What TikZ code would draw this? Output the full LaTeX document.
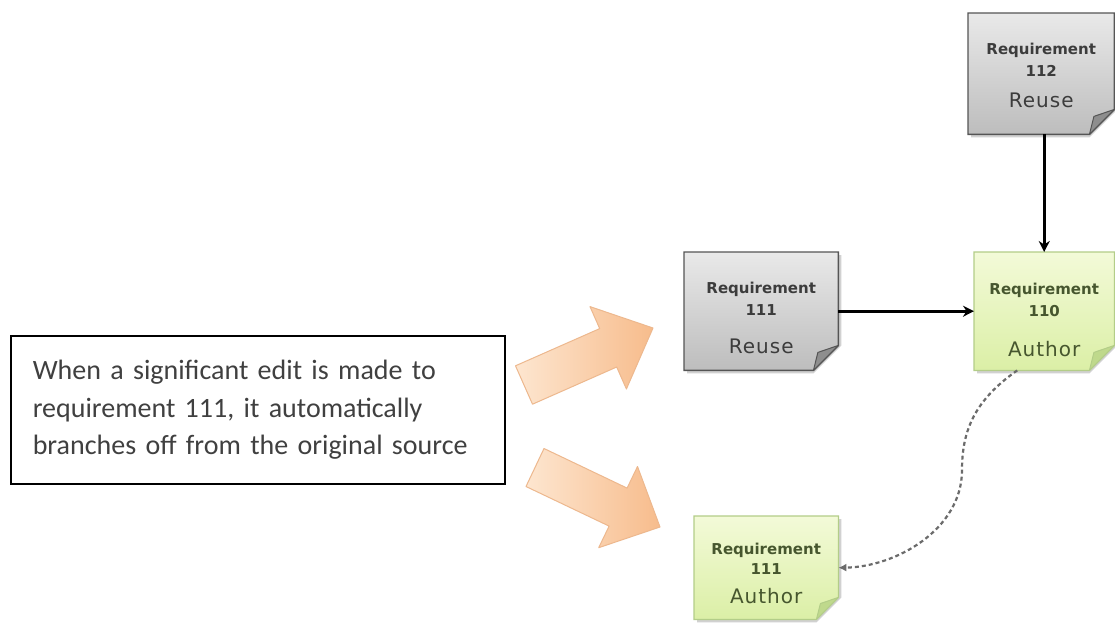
\documentclass[tikz,border=0pt]{standalone}
\usepackage{fontspec}
\setmainfont{Carlito}
\newfontfamily\notefont{DejaVu Sans}
\newfontfamily\notewide[LetterSpace=5]{DejaVu Sans}
\usetikzlibrary{calc,arrows.meta}

\definecolor{graytop}{HTML}{E9E9E9}
\definecolor{graybot}{HTML}{BDBDBD}
\definecolor{grayline}{HTML}{555555}
\definecolor{grayfold}{HTML}{8E8E8E}
\definecolor{graytext}{HTML}{3C3C3C}
\definecolor{greentop}{HTML}{F3FAD8}
\definecolor{greenbot}{HTML}{DBEFA6}
\definecolor{greenline}{HTML}{B3CD88}
\definecolor{greenfold}{HTML}{BFD98C}
\definecolor{greentext}{HTML}{46562E}
\definecolor{peachlight}{HTML}{FDE6D0}
\definecolor{peachdark}{HTML}{F7BC8C}
\definecolor{peachline}{HTML}{EDB88E}
\definecolor{infotext}{HTML}{404040}

\tikzset{
  notebox/.style={rectangle, inner sep=0pt, anchor=north west},
  graybody/.style={top color=graytop, bottom color=graybot, draw=grayline, line width=1.4pt},
  grayflap/.style={fill=grayfold, draw=grayline, line width=1pt, line join=round},
  greenbody/.style={top color=greentop, bottom color=greenbot, draw=greenline, line width=1.2pt},
  greenflap/.style={fill=greenfold, draw=greenline, line width=1pt, line join=round},
  noteshadow/.style={fill=black!18},
  notetext/.style={anchor=north, inner sep=0pt, align=center,
    font=\notefont\fontsize{15}{22}\selectfont\bfseries},
  infobox/.style={rectangle, draw=black, line width=1.5pt, anchor=north west,
    text width=450pt, align=left, inner xsep=22pt, text=infotext,
    font=\fontsize{28}{37.5}\selectfont},
  peacharrow/.style={left color=peachlight, right color=peachdark,
    draw=peachline, line width=1pt, line join=round},
  solidlink/.style={draw=black, line width=2.8pt,
    -{Stealth[length=11pt,width=11pt]}},
  dashedlink/.style={draw=black!58, line width=2.2pt, dash pattern=on 4pt off 3pt,
    -{Latex[length=8pt,width=8pt]}},
}

% folded-corner note drawn round a named rectangle node
% #1 node, #2 body style, #3 flap style, #4 flap size
\newcommand\foldnote[4]{%
  \path[noteshadow] ([xshift=3pt,yshift=-3pt]#1.north west)
    -- ([xshift=3pt,yshift=-3pt]#1.north east)
    -- ([xshift=3pt,yshift=#4]#1.south east)
    -- ([xshift=-#4,yshift=-3pt]#1.south east)
    -- ([xshift=3pt,yshift=-3pt]#1.south west) -- cycle;
  \path[#2] (#1.north west) -- (#1.north east)
    -- ([yshift=#4]#1.south east) -- ([xshift=-#4]#1.south east)
    -- (#1.south west) -- cycle;
  \path[#3] ([yshift=#4]#1.south east) -- ([xshift=-#4]#1.south east)
    -- ([xshift=-0.82*#4,yshift=0.72*#4]#1.south east) -- cycle;
}

\begin{document}
\begin{tikzpicture}[x=1pt,y=-1pt]
\useasboundingbox (0,0) rectangle (1115,624);
\fill[white] (0,0) rectangle (1115,624);

% note frames
\node[notebox, minimum width=146pt, minimum height=121pt] (r112) at (968,13) {};
\node[notebox, minimum width=154pt, minimum height=118pt] (r111) at (684,252) {};
\node[notebox, minimum width=140pt, minimum height=118pt] (r110) at (974,252) {};
\node[notebox, minimum width=144pt, minimum height=103pt] (a111) at (694,516) {};

\foldnote{r112}{graybody}{grayflap}{25pt}
\foldnote{r111}{graybody}{grayflap}{25pt}
\foldnote{r110}{greenbody}{greenflap}{25pt}
\foldnote{a111}{greenbody}{greenflap}{22pt}

% note captions
\node[notetext, text=graytext] (r112t) at ([yshift=-30pt]r112.north)
  {Requirement\\112\\[9pt]{\mdseries\notewide\fontsize{20}{20}\selectfont Reuse}};
\node[notetext, text=graytext] (r111t) at ([yshift=-30pt]r111.north)
  {Requirement\\111\\[16pt]{\mdseries\notewide\fontsize{20}{20}\selectfont Reuse}};
\node[notetext, text=greentext] (r110t) at ([yshift=-31pt]r110.north)
  {Requirement\\110\\[18pt]{\mdseries\notewide\fontsize{20}{20}\selectfont Author}};
\node[notetext, text=greentext] (a111t) at ([yshift=-27pt]a111.north)
  {Requirement\\[-2pt]111\\[7pt]{\mdseries\notewide\fontsize{20}{20}\selectfont Author}};

% explanation box
\node[infobox, minimum height=148pt] (info) at (10,335)
  {When a significant edit is made to\\
   requirement 111, it automatically\\
   branches off from the original source};

% block arrows
\path[peacharrow] (515.5,365.8) -- (599.7,328.6) -- (590,306.6) -- (653,328)
  -- (626.4,389) -- (616.7,367.0) -- (532.5,404.2) -- cycle;
\path[peacharrow] (544.0,448.5) -- (627.1,488.1) -- (637.5,466.5) -- (660,527)
  -- (598.7,547.7) -- (609.1,526.1) -- (526.0,486.5) -- cycle;

% links
\draw[solidlink] (r110.north |- r112.south) -- (r110.north);
\draw[solidlink] (r111.east) -- (r110.west);
\draw[dashedlink] ([xshift=-27pt]r110.south) .. controls (975,400) and (962,430) .. (962,470)
  .. controls (962,530) and (895,567) .. (a111.east);
\end{tikzpicture}
\end{document}
